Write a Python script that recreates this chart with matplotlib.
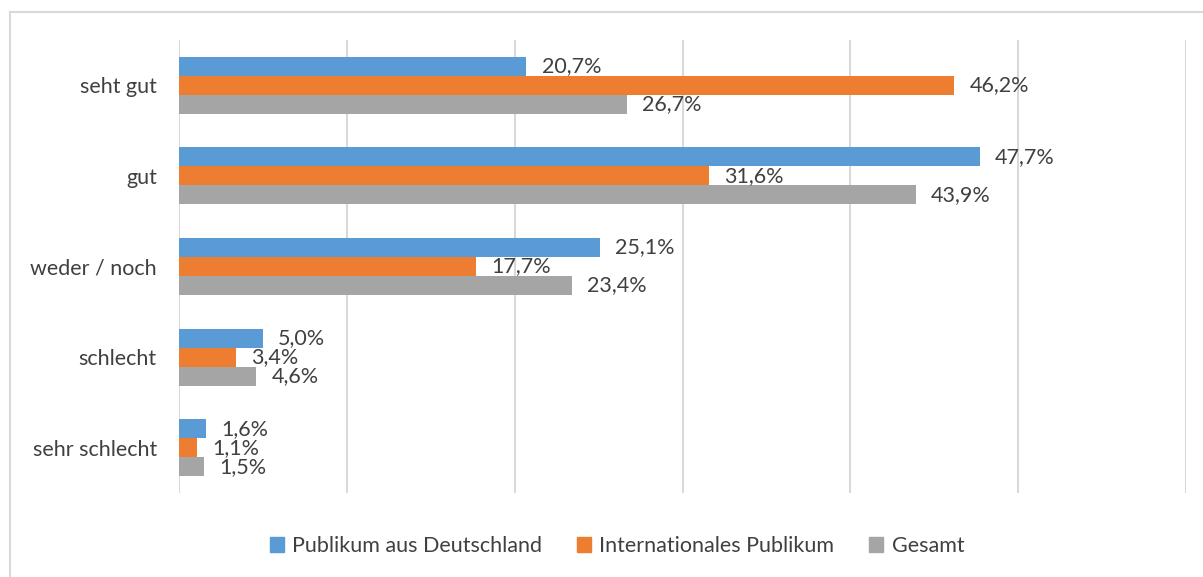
import numpy as np
import matplotlib.pyplot as plt
from matplotlib.lines import Line2D
from matplotlib.patches import Patch

plt.rcParams['font.family'] = ['Lato', 'DejaVu Sans']

categories = ['seht gut', 'gut', 'weder / noch', 'schlecht', 'sehr schlecht']
series = ['Publikum aus Deutschland', 'Internationales Publikum', 'Gesamt']
deutschland = [20.7, 47.7, 25.1, 5.0, 1.6]
international = [46.2, 31.6, 17.7, 3.4, 1.1]
gesamt = [26.7, 43.9, 23.4, 4.6, 1.5]
colors = ['#5B9BD5', '#ED7D31', '#A5A5A5']
TEXT = '#404040'

W, H = 1203, 577
fig = plt.figure(figsize=(W / 100, H / 100), dpi=100)
ax = fig.add_axes([179 / W, 1 - 493 / H, (1186 - 179) / W, (493 - 40) / H])

y = np.arange(len(categories))
h = 0.21
for k, (vals, c) in enumerate(zip([deutschland, international, gesamt], colors)):
    pos = y + (k - 1) * h
    ax.barh(pos, vals, height=h, color=c, zorder=3)
    for p, v in zip(pos, vals):
        ax.text(v + 0.9, p, f'{v:.1f}%'.replace('.', ','), va='center', ha='left',
                fontsize=15.5, color=TEXT, zorder=4)

ax.set_xlim(0, 60)
ax.set_ylim(len(categories) - 0.5, -0.5)
ax.set_xticks(np.arange(0, 61, 10))
ax.set_xticklabels([])
ax.tick_params(axis='x', length=0)
ax.tick_params(axis='y', length=0, pad=16, labelsize=15.5, labelcolor=TEXT)
ax.set_yticks(y)
ax.set_yticklabels(categories)
ax.grid(axis='x', color='#D9D9D9', linewidth=1.5, zorder=0)
for s in ax.spines.values():
    s.set_visible(False)

handles = [Patch(color=c) for c in colors]
fig.legend(handles, series, loc='center', bbox_to_anchor=(617 / W, 1 - 546 / H), ncol=3,
           frameon=False, fontsize=15.5, labelcolor=TEXT, handlelength=0.65, handleheight=0.65,
           handletextpad=0.4, columnspacing=1.6)

# outer chart frame (only top and left edges are visible)
fx, fy = 9.5 / W, 1 - 11.5 / H
fig.add_artist(Line2D([fx, fx], [0, fy], transform=fig.transFigure, color='#D9D9D9', lw=1.5))
fig.add_artist(Line2D([fx, 1], [fy, fy], transform=fig.transFigure, color='#D9D9D9', lw=1.5))

fig.savefig('out.png', dpi=100)
